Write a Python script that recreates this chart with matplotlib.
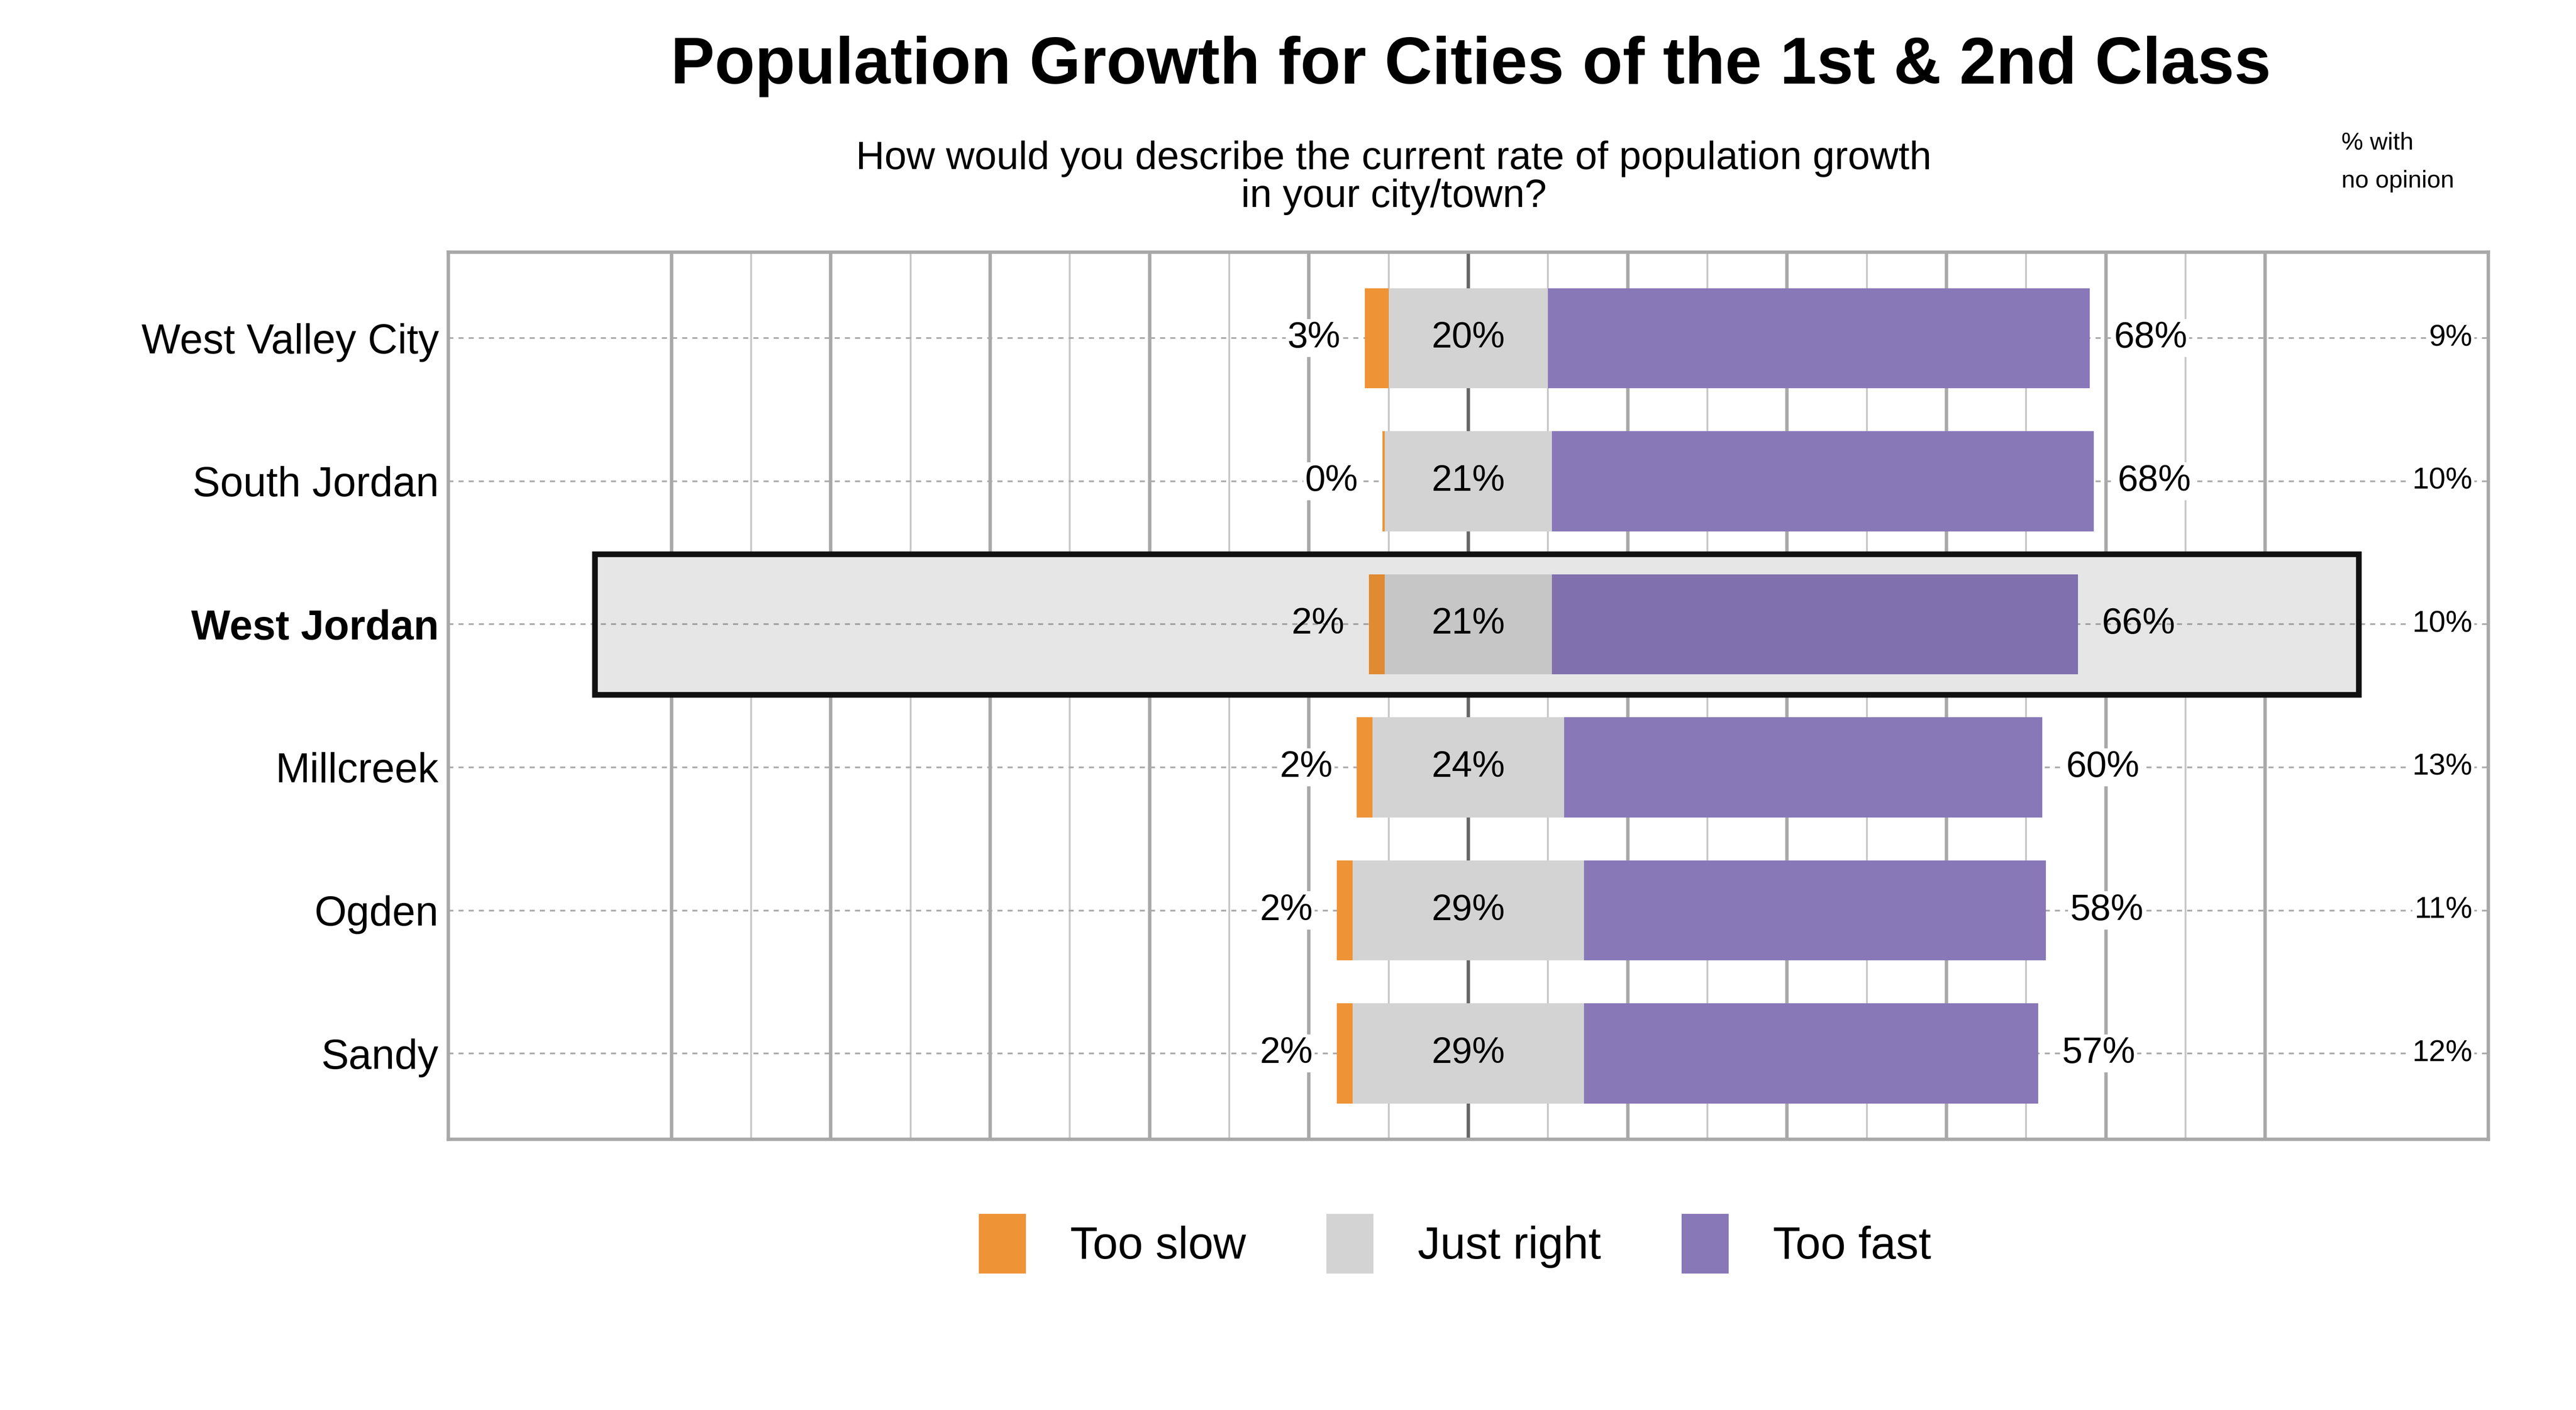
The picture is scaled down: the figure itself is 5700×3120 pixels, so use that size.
import matplotlib
matplotlib.use("Agg")
import matplotlib.pyplot as plt
from matplotlib.patches import Rectangle, Patch
import numpy as np

plt.rcParams['font.family'] = ['Liberation Sans', 'DejaVu Sans']

cities = ["West Valley City", "South Jordan", "West Jordan", "Millcreek", "Ogden", "Sandy"]
too_slow = [3, 0, 2, 2, 2, 2]
just_right = [20, 21, 21, 24, 29, 29]
too_fast = [68, 68, 66, 60, 58, 57]
no_opinion = [9, 10, 10, 13, 11, 12]
highlight = "West Jordan"

c_slow, c_right, c_fast = "#EE9336", "#D3D3D3", "#8878B8"

fig = plt.figure(figsize=(19, 10.4), dpi=300)
ax = fig.add_axes([0.174, 0.192, 0.792, 0.629])
ax.set_xlim(-128, 128)
ax.set_ylim(5.6, -0.6)

for x in range(-100, 101, 10):
    if x == 0:
        ax.axvline(x, color="#666666", lw=1.8, zorder=0)
    elif x % 20 == 0:
        ax.axvline(x, color="#A8A8A8", lw=1.8, zorder=0)
    else:
        ax.axvline(x, color="#C8C8C8", lw=1.0, zorder=0)

y = np.arange(len(cities))
for i in y:
    ax.axhline(i, color="#AAAAAA", lw=0.9, ls=(0, (3, 3)), zorder=0.5)

hi = cities.index(highlight)
ax.add_patch(Rectangle((-109.6, hi - 0.49), 221.3, 0.98, facecolor="#F5F5F5",
                       edgecolor="none", zorder=0.2))

jr = np.array(just_right, float)
ts = np.array(too_slow, float)
tf = np.array(too_fast, float)
h = 0.7
ax.barh(y, jr, left=-jr / 2, height=h, color=c_right, zorder=2)
ax.barh(y, np.maximum(ts, 0.3), left=-jr / 2 - np.maximum(ts, 0.3), height=h, color=c_slow, zorder=2)
ax.barh(y, tf, left=jr / 2, height=h, color=c_fast, zorder=2)

ax.add_patch(Rectangle((-109.6, hi - 0.49), 221.3, 0.98, facecolor="#000000", alpha=0.06,
                       edgecolor="none", zorder=3))
ax.add_patch(Rectangle((-109.6, hi - 0.49), 221.3, 0.98, facecolor="none",
                       edgecolor="#111111", lw=3, zorder=4))

fs = 19.5
for i in y:
    box = dict(facecolor="white", edgecolor="none", pad=1) if cities[i] != highlight else None
    ax.text(-jr[i] / 2 - max(ts[i], 0.3) - 3, i, f"{too_slow[i]}%", ha="right", va="center", fontsize=fs,
            zorder=5, bbox=box)
    ax.text(0, i, f"{just_right[i]}%", ha="center", va="center", fontsize=fs, zorder=5)
    ax.text(jr[i] / 2 + tf[i] + 3, i, f"{too_fast[i]}%", ha="left", va="center", fontsize=fs, zorder=5,
            bbox=box)
    ax.text(126, i, f"{no_opinion[i]}%", ha="right", va="center", fontsize=16, zorder=5,
            bbox=dict(facecolor="white", edgecolor="none", pad=1))

ax.set_yticks(y)
ax.set_yticklabels(cities, fontsize=22)
for lbl in ax.get_yticklabels():
    if lbl.get_text() == highlight:
        lbl.set_fontweight("bold")
ax.tick_params(axis="y", length=0, pad=5)
ax.set_xticks([])
for s in ax.spines.values():
    s.set_color("#A8A8A8")
    s.set_linewidth(1.8)

fig.text(0.571, 0.953, "Population Growth for Cities of the 1st & 2nd Class", ha="center", va="center",
         fontsize=35, fontweight="bold")
fig.text(0.541, 0.874, "How would you describe the current rate of population growth\nin your city/town?",
         ha="center", va="center", fontsize=21, linespacing=1.05)
fig.text(0.909, 0.885, "% with\nno opinion", ha="left", va="center", fontsize=13, linespacing=1.9)

handles = [Patch(color=c_slow, label="Too slow"), Patch(color=c_right, label="Just right"),
           Patch(color=c_fast, label="Too fast")]
fig.legend(handles=handles, loc="center", bbox_to_anchor=(0.565, 0.118), ncol=3, frameon=False,
           fontsize=24, handlelength=1.0, handleheight=1.6, columnspacing=1.8, handletextpad=1.0)

fig.savefig("out.png", dpi=300)
